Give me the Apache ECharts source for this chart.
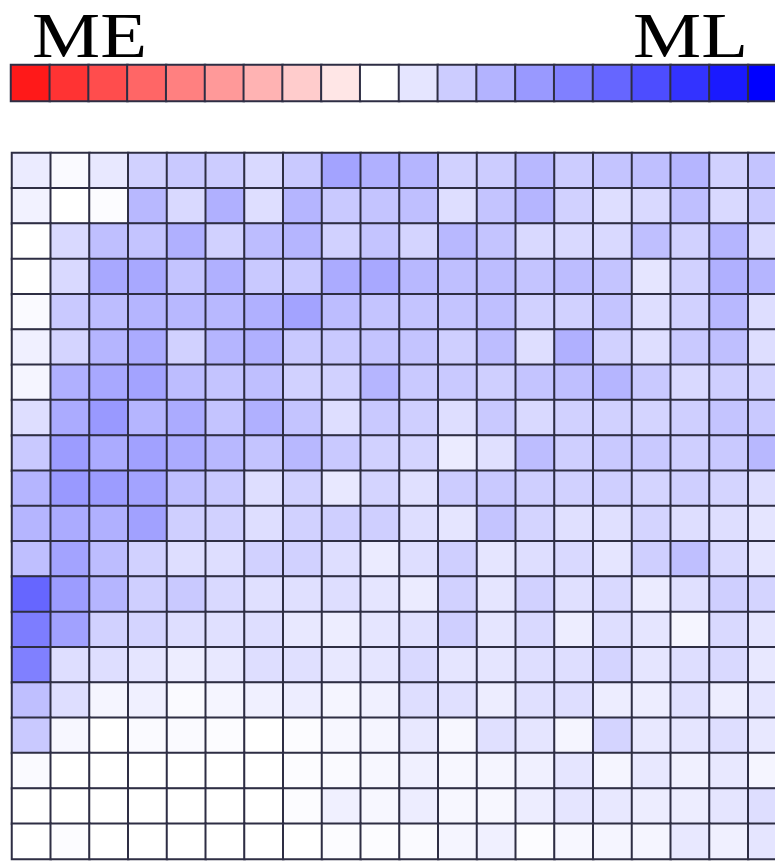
<!DOCTYPE html>
<html>
<head>
<meta charset="utf-8">
<script src="https://cdn.jsdelivr.net/npm/echarts@6/dist/echarts.min.js"></script>
<style>
html,body{margin:0;padding:0;background:#fff;}
#chart{width:775px;height:861px;}
</style>
</head>
<body>
<div id="chart"></div>
<script>
// Scale labels
const leftLabel = 'ME';
const rightLabel = 'ML';

// Colour-key values (20 steps, red = ME, blue = ML)
const legendValues = [-0.9,-0.8,-0.7,-0.6,-0.5,-0.4,-0.3,-0.2,-0.1,0,0.1,0.2,0.3,0.4,0.5,0.6,0.7,0.8,0.9,1.0];

// Grid categories
const columns = Array.from({length:20},(_,i)=>'C'+(i+1));
const rows = Array.from({length:20},(_,i)=>'R'+(i+1));

// Cell values, row by row (top to bottom)
const row01 = [0.08,0.02,0.09,0.18,0.21,0.20,0.15,0.21,0.36,0.31, 0.29,0.18,0.20,0.28,0.20,0.23,0.25,0.29,0.18,0.23];
const row02 = [0.05,0.00,0.01,0.28,0.15,0.31,0.13,0.29,0.21,0.23, 0.25,0.13,0.23,0.29,0.18,0.13,0.15,0.25,0.15,0.21];
const row03 = [0.00,0.15,0.25,0.23,0.31,0.18,0.26,0.29,0.18,0.23, 0.17,0.28,0.23,0.15,0.15,0.15,0.25,0.18,0.29,0.15];
const row04 = [0.00,0.15,0.34,0.34,0.23,0.31,0.21,0.21,0.33,0.34, 0.28,0.25,0.26,0.23,0.26,0.23,0.10,0.18,0.31,0.29];
const row05 = [0.02,0.21,0.26,0.29,0.28,0.28,0.31,0.36,0.26,0.23, 0.23,0.23,0.25,0.18,0.18,0.23,0.13,0.18,0.28,0.13];
const row06 = [0.06,0.17,0.29,0.33,0.18,0.29,0.31,0.21,0.21,0.23, 0.23,0.19,0.26,0.13,0.31,0.18,0.13,0.21,0.25,0.13];
const row07 = [0.04,0.31,0.34,0.36,0.26,0.23,0.25,0.18,0.18,0.29, 0.21,0.21,0.19,0.23,0.25,0.29,0.21,0.15,0.19,0.17];
const row08 = [0.13,0.33,0.40,0.29,0.33,0.23,0.31,0.23,0.13,0.21, 0.19,0.13,0.21,0.15,0.18,0.18,0.17,0.19,0.23,0.21];
const row09 = [0.21,0.39,0.33,0.37,0.33,0.28,0.23,0.28,0.21,0.18, 0.17,0.08,0.12,0.26,0.19,0.21,0.21,0.19,0.21,0.28];
const row10 = [0.29,0.40,0.39,0.36,0.25,0.21,0.13,0.18,0.09,0.17, 0.12,0.20,0.21,0.19,0.18,0.19,0.17,0.19,0.17,0.13];
const row11 = [0.29,0.33,0.31,0.37,0.19,0.18,0.13,0.18,0.19,0.19, 0.13,0.10,0.23,0.17,0.12,0.12,0.17,0.13,0.13,0.10];
const row12 = [0.25,0.36,0.26,0.18,0.13,0.13,0.18,0.18,0.13,0.08, 0.13,0.19,0.10,0.13,0.15,0.10,0.19,0.25,0.15,0.10];
const row13 = [0.60,0.39,0.29,0.19,0.21,0.15,0.12,0.12,0.13,0.10, 0.08,0.18,0.10,0.18,0.12,0.15,0.08,0.12,0.19,0.17];
const row14 = [0.51,0.37,0.18,0.17,0.13,0.12,0.13,0.09,0.07,0.10, 0.12,0.19,0.10,0.15,0.07,0.13,0.10,0.04,0.15,0.10];
const row15 = [0.50,0.13,0.13,0.10,0.07,0.09,0.13,0.12,0.09,0.10, 0.15,0.10,0.10,0.13,0.13,0.17,0.10,0.13,0.15,0.09];
const row16 = [0.25,0.13,0.04,0.06,0.02,0.04,0.06,0.07,0.04,0.06, 0.13,0.12,0.07,0.12,0.13,0.07,0.07,0.12,0.07,0.10];
const row17 = [0.21,0.03,0.00,0.02,0.02,0.01,0.00,0.01,0.03,0.04, 0.09,0.03,0.12,0.10,0.04,0.17,0.09,0.10,0.13,0.09];
const row18 = [0.02,0.00,0.00,0.00,0.00,0.00,0.00,0.01,0.02,0.03, 0.06,0.03,0.04,0.06,0.10,0.04,0.09,0.06,0.09,0.04];
const row19 = [0.00,0.00,0.00,0.00,0.00,0.00,0.00,0.01,0.06,0.03, 0.07,0.03,0.03,0.07,0.10,0.09,0.07,0.07,0.10,0.13];
const row20 = [0.00,0.01,0.00,0.00,0.00,0.00,0.00,0.00,0.01,0.01, 0.02,0.04,0.06,0.01,0.03,0.04,0.04,0.09,0.06,0.10];

const cellRows = [row01,row02,row03,row04,row05,row06,row07,row08,row09,row10,
                  row11,row12,row13,row14,row15,row16,row17,row18,row19,row20];

const heatData = [];
cellRows.forEach((r, yi) => r.forEach((v, xi) => heatData.push([xi, yi, v])));
const keyData = legendValues.map((v, i) => [i, 0, v]);

const chart = echarts.init(document.getElementById('chart'), null, {renderer: 'svg'});

const cellStyle = {borderColor: '#2e2e44', borderWidth: 2};
const labelFont = '63px "Liberation Serif", "Times New Roman", serif';

chart.setOption({
  backgroundColor: '#ffffff',
  animation: false,
  grid: [
    {left: 11, top: 65, width: 776, height: 36, outerBoundsMode: 'none'},
    {left: 12, top: 153, width: 775, height: 706, outerBoundsMode: 'none'}
  ],
  xAxis: [
    {type: 'category', gridIndex: 0, data: legendValues.map(String), show: false},
    {type: 'category', gridIndex: 1, data: columns, show: false}
  ],
  yAxis: [
    {type: 'category', gridIndex: 0, data: ['key'], show: false},
    {type: 'category', gridIndex: 1, data: rows, inverse: true, show: false}
  ],
  visualMap: {
    type: 'continuous', show: false, min: -1, max: 1,
    seriesIndex: [0, 1],
    inRange: {color: ['#ff0000', '#ffffff', '#0000ff']}
  },
  graphic: [
    {type: 'text', x: 32, y: 5.6, scaleX: 1.217, z: 100, style: {text: leftLabel, font: labelFont, lineHeight: 60, fill: '#000'}},
    {type: 'text', x: 633, y: 5.6, scaleX: 1.217, z: 100, style: {text: rightLabel, font: labelFont, lineHeight: 60, fill: '#000'}}
  ],
  series: [
    {type: 'heatmap', xAxisIndex: 0, yAxisIndex: 0, data: keyData, itemStyle: cellStyle, emphasis: {disabled: true}},
    {type: 'heatmap', xAxisIndex: 1, yAxisIndex: 1, data: heatData, itemStyle: cellStyle, emphasis: {disabled: true}}
  ]
});
</script>
</body>
</html>
